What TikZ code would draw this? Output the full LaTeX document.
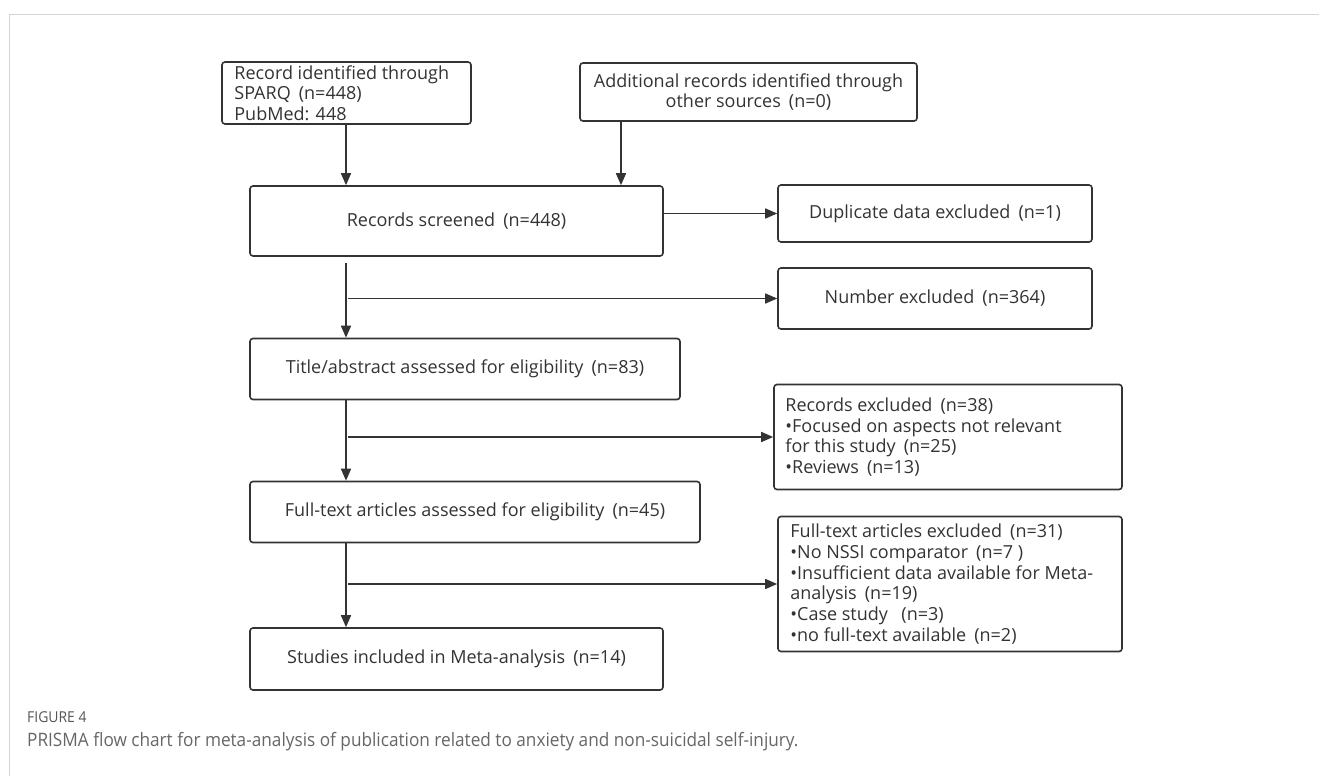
\documentclass[tikz,border=0pt]{standalone}
\usepackage{fontspec}
\setmainfont{Open Sans}
\newfontfamily\capfont[FakeStretch=0.93]{Open Sans}
\usetikzlibrary{arrows.meta}
\definecolor{ln}{HTML}{333333}
\definecolor{tx}{HTML}{333333}
\definecolor{capc}{HTML}{666666}
\definecolor{capk}{HTML}{555555}
\definecolor{framec}{HTML}{D4D4D4}
\newcommand\pn[1]{\hspace{0.45em}(#1)}
\begin{document}
\begin{tikzpicture}[x=1pt,y=-1pt,
  box/.style={draw=ln, line width=1.6pt, rounded corners=3pt, text=tx,
    font=\fontsize{18}{20.7}\selectfont, inner sep=0pt, align=center},
  ltext/.style={anchor=west, inner sep=0pt, text=tx, align=left,
    font=\fontsize{18}{20.7}\selectfont},
  arr/.style={draw=ln, line width=1.6pt, -{Triangle[length=12pt,width=10pt]}}]
\useasboundingbox (0,0) rectangle (1319,776);
\draw[framec, line width=1.5pt] (9.5,776) -- (9.5,14.5) -- (1319,14.5);

\coordinate (xl) at (346,0);
\coordinate (xb) at (621,0);

\node[box, minimum width=249pt, minimum height=62pt] (a) at (346.5,93) {};
\node[ltext] (at) at ([xshift=13pt]a.west) {Record identified through\\SPARQ\pn{n=448}\\PubMed: 448};
\node[box, minimum width=337pt, minimum height=58pt] (b) at (748.5,92)
  {Additional records identified through\\other sources\pn{n=0}};
\node[box, minimum width=413pt, minimum height=70pt] (c) at (456.5,221)
  {Records screened\pn{n=448}};
\node[box, minimum width=314pt, minimum height=57pt] (d) at (935,213.5)
  {Duplicate data excluded\pn{n=1}};
\node[box, minimum width=314pt, minimum height=61pt] (e) at (935,298.5)
  {Number excluded\pn{n=364}};
\node[box, minimum width=430pt, minimum height=61pt] (f) at (465,369)
  {Title/abstract assessed for eligibility\pn{n=83}};
\node[box, minimum width=348pt, minimum height=105pt] (g) at (948,437) {};
\node[ltext] (gt) at ([xshift=12pt]g.west)
  {Records excluded\pn{n=38}\\\textbullet Focused on aspects not relevant\\for this study\pn{n=25}\\\textbullet Reviews\pn{n=13}};
\node[box, minimum width=450pt, minimum height=61pt] (h) at (475,512)
  {Full-text articles assessed for eligibility\pn{n=45}};
\node[box, minimum width=344pt, minimum height=135pt] (i) at (950,584) {};
\node[ltext] (it) at ([xshift=13pt]i.west)
  {Full-text articles excluded\pn{n=31}\\\textbullet No NSSI comparator\pn{n=7 }\\\textbullet Insufficient data available for Meta-\\analysis\pn{n=19}\\\textbullet Case study\hspace{0.3em}\pn{n=3}\\\textbullet no full-text available\pn{n=2}};
\node[box, minimum width=413pt, minimum height=62pt] (j) at (456.5,659)
  {Studies included in Meta-analysis\pn{n=14}};

\draw[arr] (a.south -| xl) -- (c.north -| xl);
\draw[arr] (b.south -| xb) -- (c.north -| xb);
\draw[arr] (c.east |- d.west) -- (d.west);
\draw[arr] ([yshift=-6pt]c.south -| xl) -- (f.north -| xl);
\draw[arr] ([xshift=2pt]e.west -| xl) -- (e.west);
\draw[arr] (f.south -| xl) -- (h.north -| xl);
\draw[arr] ([xshift=2pt]g.west -| xl) -- (g.west);
\draw[arr] (h.south -| xl) -- (j.north -| xl);
\draw[arr] ([xshift=2pt]i.west -| xl) -- (i.west);

\node[anchor=base west, inner sep=0pt, text=capk, font=\capfont\fontsize{15}{17}\selectfont] (cap1) at (27,722) {FIGURE 4};
\node[anchor=base west, inner sep=0pt, text=capc, font=\capfont\fontsize{18.5}{22}\selectfont] (cap2) at (27,746)
  {PRISMA flow chart for meta-analysis of publication related to anxiety and non-suicidal self-injury.};
\end{tikzpicture}
\end{document}
